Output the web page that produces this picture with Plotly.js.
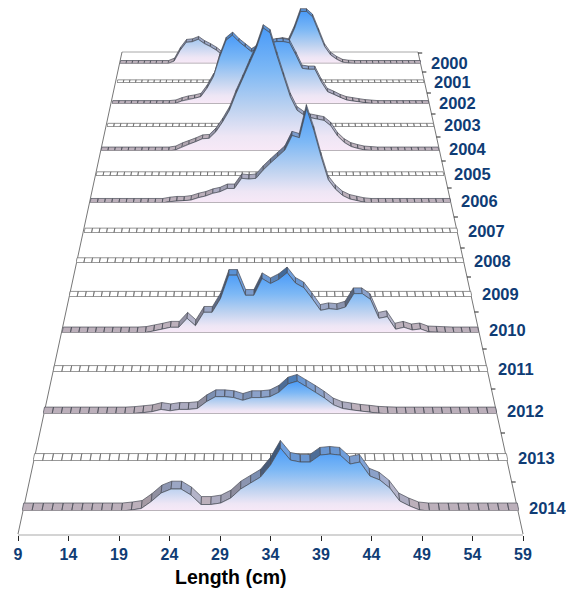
<!DOCTYPE html>
<html><head><meta charset="utf-8">
<script src="https://cdn.plot.ly/plotly-3.0.1.min.js"></script>
<style>html,body{margin:0;padding:0;background:#fff}#c{width:566px;height:590px}</style>
</head><body><div id="c"></div>
<script>
// ---------- data: values per length class, cm 9..59 ----------
const lengths = [9,10,11,12,13,14,15,16,17,18,19,20,21,22,23,24,25,26,27,28,29,30,31,32,33,34,35,36,37,38,39,40,41,42,43,44,45,46,47,48,49,50,51,52,53,54,55,56,57,58,59];
const years = [2000,2001,2002,2003,2004,2005,2006,2007,2008,2009,2010,2011,2012,2013,2014];
const v2000 = [0,0,0,0,0,0,0,0,0,.4,
  2.2,3.5,3.6,4.0,3.3,2.8,2.2,1.4,1.3,1.4,
  1.5,1.7,1.9,2.1,2.6,3.2,3.6,3.8,3.6,5.8,
  8.6,8.6,7.7,5.3,2.8,1.4,.7,.2,.05,0,
  0,0,0,0,0,0,0,0,0,0,0];
const v2002 = [0,0,0,0,0,0,0,0,0,0,
  .1,.47,.74,.9,1.15,2.5,4.3,7.4,10.0,10.8,
  9.8,9.0,8.2,8.8,9.3,9.6,9.8,9.8,9.6,7.7,
  5.6,5.45,5.45,3.5,1.93,1.5,1.0,.63,.47,.31,
  .16,.08,0,0,0,0,0,0,0,0,0];
const v2004 = [0,0,0,0,0,0,0,0,0,0,
  0,.15,.63,.99,1.37,1.8,1.87,2.84,4.3,6.0,
  8.5,10.7,13.0,15.2,18.1,17.4,14.1,11.0,8.0,6.0,
  5.3,4.9,4.7,4.5,3.7,2.2,1.25,.66,.37,.15,
  .07,0,0,0,0,0,0,0,0,0,0];
const v2006 = [0,0,0,0,0,0,0,0,0,0,
  0,.18,.28,.28,.41,.73,.96,1.33,1.55,2.0,
  2.0,3.4,3.3,3.4,4.55,5.5,6.4,7.3,9.3,9.0,
  13.0,10.0,6.4,3.2,1.9,1.03,.55,.32,.1,0,
  0,0,0,0,0,0,0,0,0,0,0];
const v2010 = [0,0,0,0,0,0,0,0,0,0,
  .05,.25,.45,.68,.68,1.75,.87,2.47,2.47,4.1,
  6.9,6.9,4.5,4.5,6.5,5.9,6.4,7.2,5.95,5.4,
  4.1,2.7,2.9,2.8,3.1,4.7,4.7,4.0,1.75,1.95,
  .45,.68,.36,.48,.12,.08,.04,0,0,0,0];
const v2012 = [0,0,0,0,0,0,0,0,0,0,
  .05,.15,.25,.5,.35,.5,.5,.6,1.35,1.9,
  1.9,1.8,1.5,1.8,1.8,1.9,2.4,3.3,3.6,3.0,
  2.4,1.75,1.0,.6,.45,.3,.2,.08,.03,0,
  0,0,0,0,0,0,0,0,0,0,0];
const v2014 = [0,0,0,0,0,0,0,0,0,0,
  0,.1,.25,.95,1.8,2.2,2.2,1.6,.65,.65,
  .8,1.3,2.2,2.8,3.4,4.6,6.3,5.1,4.9,4.9,
  5.6,5.7,5.6,4.7,4.9,3.5,3.1,2.3,1.0,.5,
  .1,0,0,0,0,0,0,0,0,0,0];
const vNone = [0,0,0,0,0,0,0,0,0,0,
  0,0,0,0,0,0,0,0,0,0,
  0,0,0,0,0,0,0,0,0,0,
  0,0,0,0,0,0,0,0,0,0,
  0,0,0,0,0,0,0,0,0,0,0];
const series = [v2000,vNone,v2002,vNone,v2004,vNone,v2006,vNone,vNone,vNone,v2010,vNone,v2012,vNone,v2014];
const xTicks = [9,14,19,24,29,34,39,44,49,54,59];
const xTitle = 'Length (cm)';

// ---------- perspective frame (page pixels) ----------
const W = 566, H = 590;
const rowBase  = [63.5,83,104,127,151,176,203,233,263,297,333,372,414,461,511];
const rowLeft  = [120,117,112,107,101,96,90,84,76,69,62,53,43,33,22];
const rowRight = [421,424,429,434,439,444,451,458,464,472,479,488,497,508,519];
const depthTickY = [53,72,93,114,137,161,188,217,248,277,312,349,389,433,482];
const wallTop = {y:52, l:122, r:418}, wallBot = {y:534, l:18, r:523};
const pxPerUnitPerWidth = 0.0201;

const navy = '#0f3c75';
const fontFam = '"Liberation Sans", Arial, sans-serif';

function hex(c){return [1,3,5].map(i=>parseInt(c.substr(i,2),16));}
function mix(a,b,t){const A=hex(a),B=hex(b);return A.map((v,i)=>v+(B[i]-v)*t);}
function cellColour(t,shade){
  const q = Math.round(Math.pow(t,1.1)*6)/6;
  const base = mix('#bcb0bb','#5a92d6',q);
  const c = base.map(v=>Math.min(255,Math.round(v*shade)));
  return 'rgb('+c.join(',')+')';
}

const traces = [], layout = {
  width:W, height:H, margin:{l:0,r:0,t:0,b:0}, showlegend:false,
  paper_bgcolor:'#fff', plot_bgcolor:'rgba(0,0,0,0)', shapes:[], annotations:[]
};

years.forEach((yr,r)=>{
  const vals = series[r], id = r===0?'':String(r+1);
  const wpx = rowRight[r]-rowLeft[r], unit = wpx*pxPerUnitPerWidth;
  const xa='x'+id, ya='y'+id;
  layout['xaxis'+id] = {domain:[rowLeft[r]/W,rowRight[r]/W],range:[9,59],visible:false,fixedrange:true,anchor:ya};
  layout['yaxis'+id] = {domain:[1-rowBase[r]/H,1],range:[0,rowBase[r]/unit],visible:false,fixedrange:true,anchor:xa};
  const empty = vals===vNone;
  const depthPx = 3+(wpx-301)/196*5;
  const s = 1-0.438*depthPx/wpx, dy = depthPx/unit;
  const bx = x=>34+(x-34)*s, by = v=>v*s+dy;
  const vmax = Math.max(...vals);
  const groups = new Map();
  for(let i=0;i<lengths.length-1;i++){
    const a=vals[i], b=vals[i+1];
    let col;
    if(empty) col='#ffffff';
    else{
      const t=(a+b)/2/vmax, dpx=(b-a)*unit;
      const steep = Math.min(1,Math.round(dpx/4)/3);
      const shade = dpx>0 ? 1-0.42*steep*Math.min(1,0.35+t) : (dpx<-6?1.05:1);
      col = cellColour(t,shade);
    }
    if(!groups.has(col)) groups.set(col,{x:[],y:[]});
    const g=groups.get(col), x0=lengths[i], x1=lengths[i+1];
    g.x.push(x0,x1,bx(x1),bx(x0),x0,null);
    g.y.push(a,b,by(b),by(a),a,null);
  }
  groups.forEach((g,col)=>traces.push({type:'scatter',mode:'lines',x:g.x,y:g.y,xaxis:xa,yaxis:ya,
    fill:'toself',fillcolor:col,line:{color:empty?'#666666':'#4a4e58',width:0.7},cliponaxis:false,hoverinfo:'skip'}));
  if(!empty){
    traces.push({type:'scatter',mode:'none',x:lengths,y:vals,xaxis:xa,yaxis:ya,fill:'tozeroy',cliponaxis:false,hoverinfo:'skip',
      fillgradient:{type:'vertical',start:0,stop:vmax,colorscale:[[0,'#f8e9f7'],[0.12,'#eee6f5'],[0.35,'#bdd2f0'],[0.65,'#7db8f5'],[1,'#4a9bf8']]}});
    traces.push({type:'scatter',mode:'lines',x:lengths,y:vals,xaxis:xa,yaxis:ya,line:{color:'#454b55',width:0.7},cliponaxis:false,hoverinfo:'skip'});
  }
  traces.push({type:'scatter',mode:'lines',x:[9,59],y:[0,0],xaxis:xa,yaxis:ya,line:{color:empty?'#8a8a8a':'#a5a0a5',width:1.5},cliponaxis:false,hoverinfo:'skip'});
  layout.annotations.push({xref:xa,yref:ya,x:59,y:0,text:String(yr),showarrow:false,xanchor:'left',yanchor:'middle',
    xshift:8,yshift:1+r*0.17,font:{family:fontFam,size:16.5,color:navy,weight:700}});
});

// length axis along the front edge of the floor
traces.push({type:'scatter',mode:'none',x:[9,59],y:[0,0],xaxis:'x16',yaxis:'y16',hoverinfo:'skip'});
layout.xaxis16 = {domain:[wallBot.l/W,wallBot.r/W],range:[9,59],anchor:'y16',tickmode:'array',tickvals:xTicks,ticktext:xTicks.map(String),
  ticks:'outside',ticklen:5,tickwidth:1,tickcolor:'#222',showline:true,linecolor:'#d4d4d4',linewidth:2,showgrid:false,zeroline:false,fixedrange:true,
  tickfont:{family:fontFam,size:16,color:navy,weight:700}};
layout.yaxis16 = {domain:[1-wallBot.y/H,1],range:[0,1],visible:false,fixedrange:true,anchor:'x16'};
layout.annotations.push({xref:'paper',yref:'paper',x:231/W,y:1-577/H,text:xTitle,showarrow:false,xanchor:'center',yanchor:'middle',
  font:{family:fontFam,size:19.5,color:'#000',weight:700}});

// floor outline and depth ticks
const px = x=>x/W, py = y=>1-y/H;
const edge=(x0,y0,x1,y1,c,w)=>layout.shapes.push({type:'line',xref:'paper',yref:'paper',x0:px(x0),y0:py(y0),x1:px(x1),y1:py(y1),line:{color:c,width:w},layer:'below'});
edge(wallTop.l,wallTop.y,wallTop.r,wallTop.y,'#a8a8a8',1);
edge(wallTop.l,wallTop.y,wallBot.l,wallBot.y,'#777',1);
edge(wallTop.r,wallTop.y,wallBot.r,wallBot.y,'#777',1);
const rightAt = y=>wallTop.r+(y-wallTop.y)*(wallBot.r-wallTop.r)/(wallBot.y-wallTop.y);
depthTickY.forEach(y=>edge(rightAt(y),y,rightAt(y)+4,y,'#222',1));

Plotly.newPlot('c',traces,layout,{staticPlot:true,displayModeBar:false});
</script></body></html>
